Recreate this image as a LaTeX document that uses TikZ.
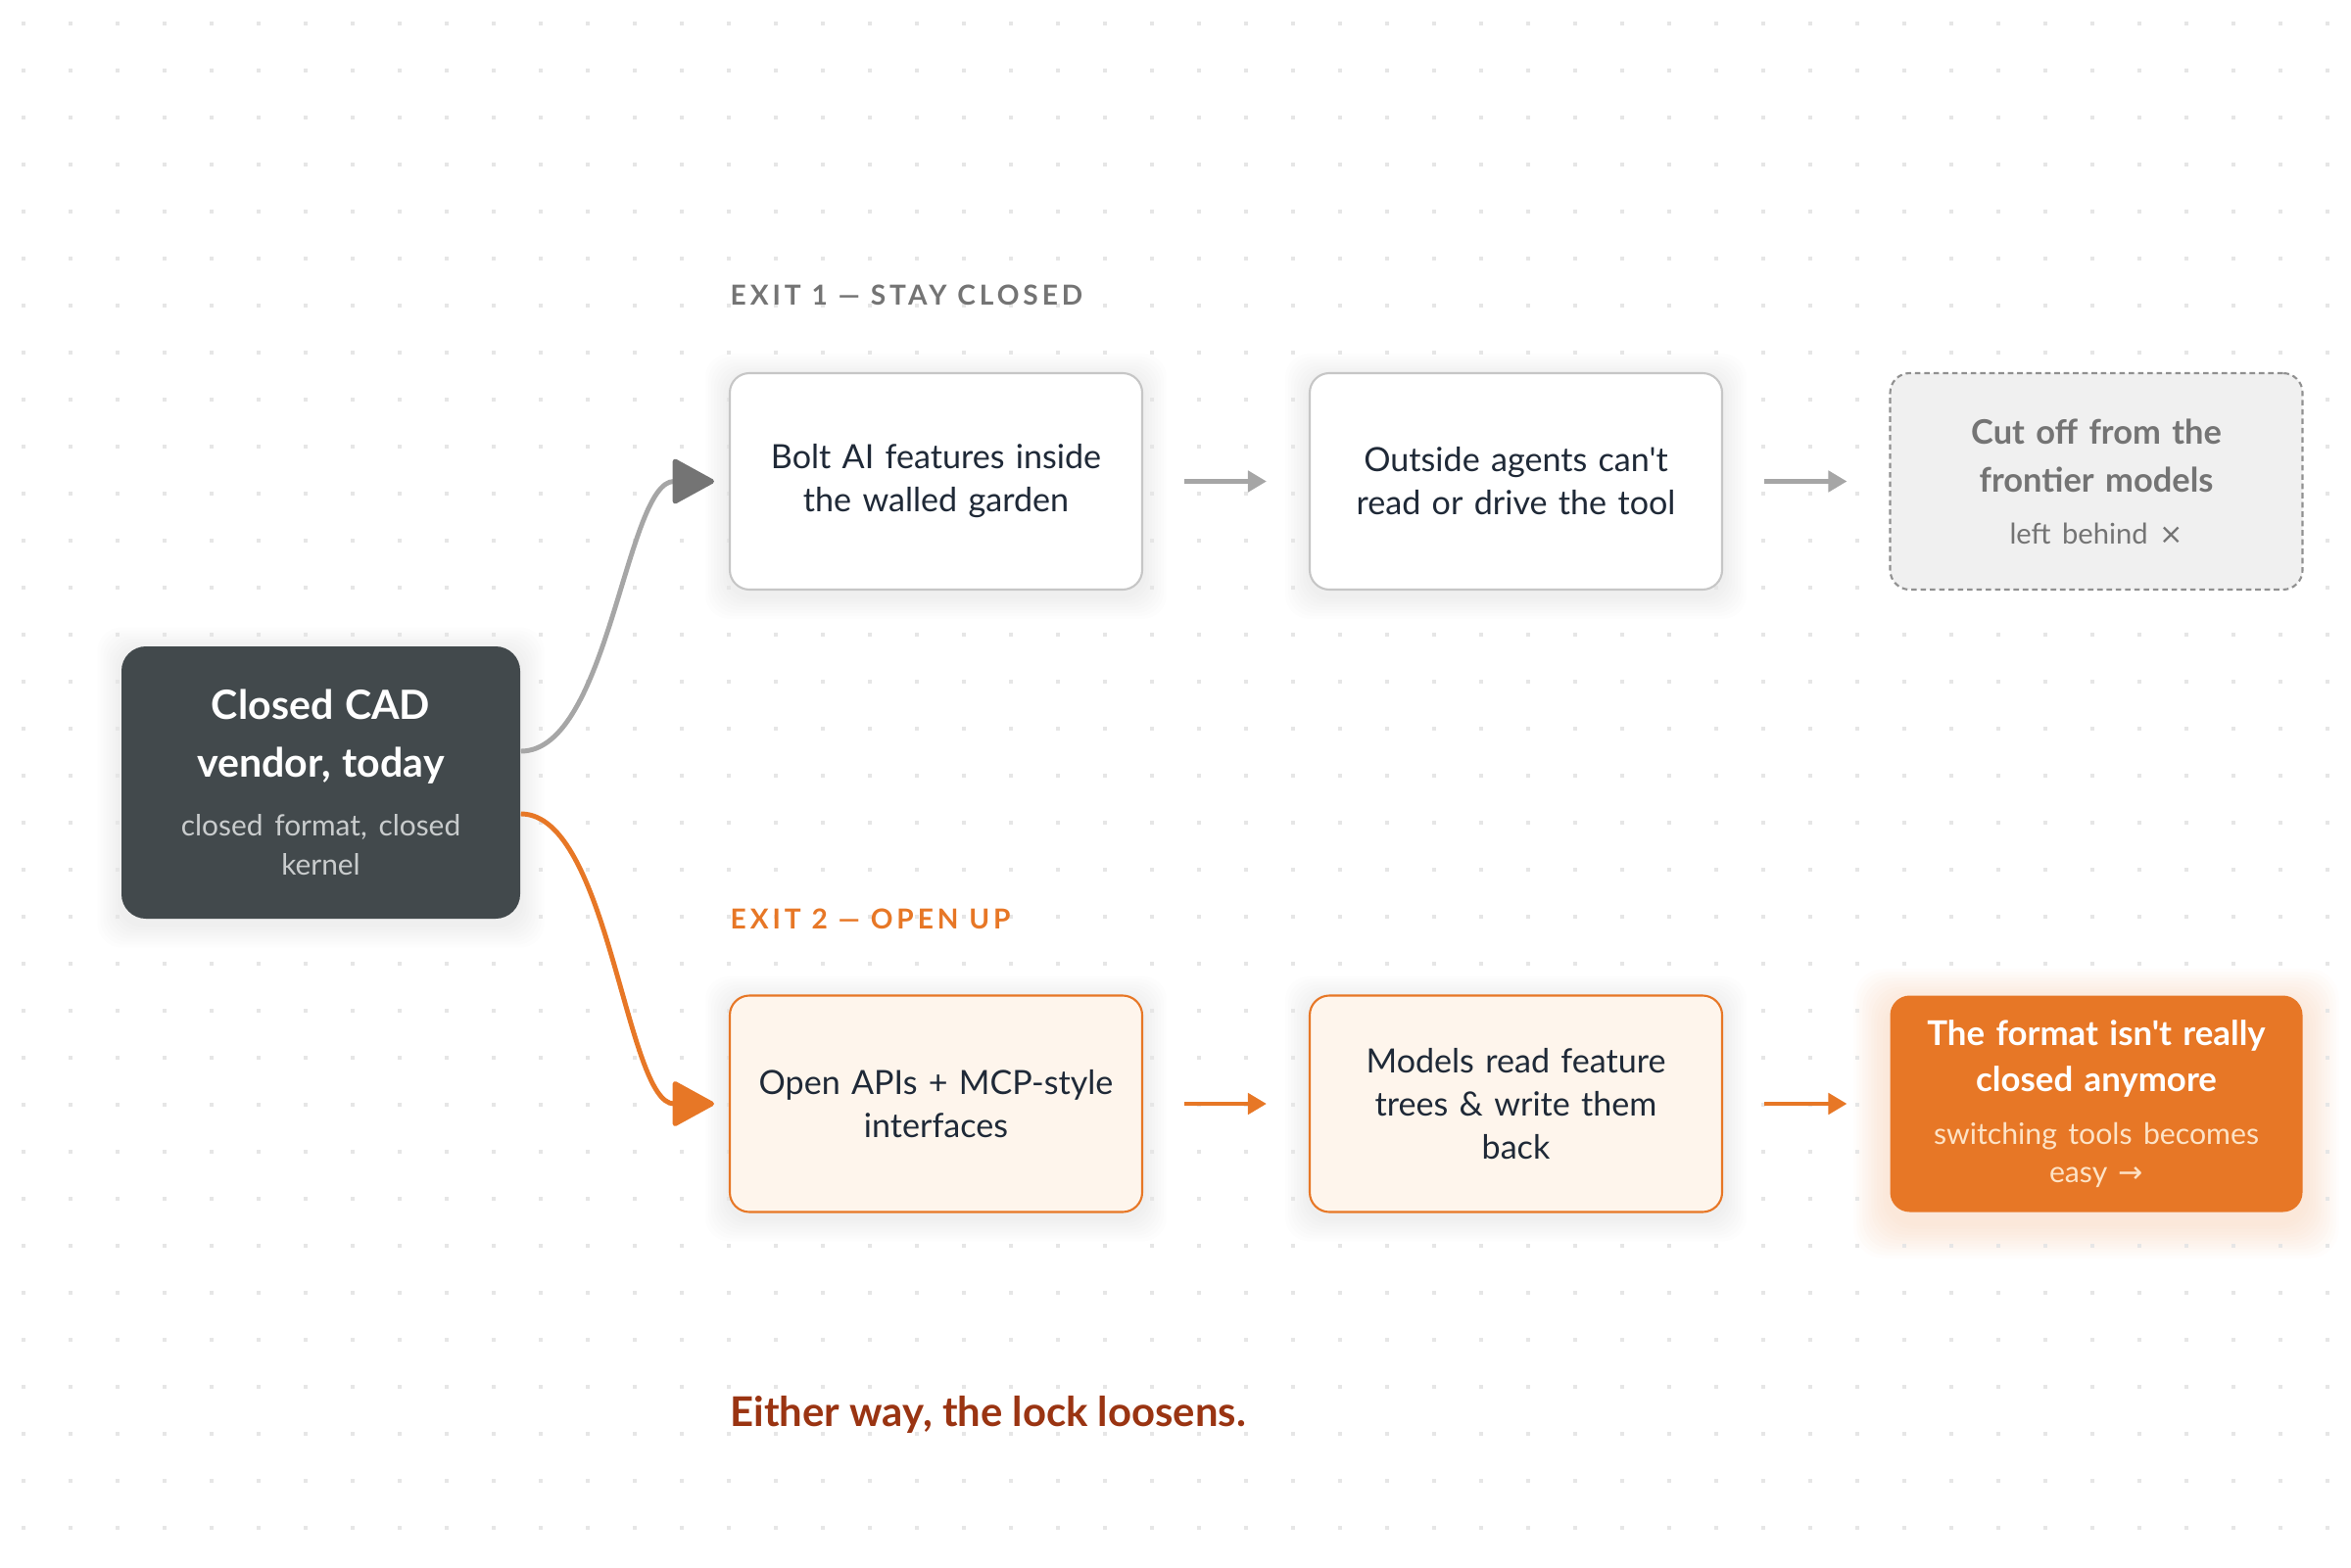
\documentclass[tikz,border=0pt]{standalone}
\usepackage{fontspec}
\setmainfont{Lato}[Ligatures=TeXOff]
\newfontfamily\symfont{DejaVu Sans}
\newfontfamily\exitfont[LetterSpace=14]{Lato}
\usetikzlibrary{arrows.meta,calc,backgrounds}

\definecolor{slate}{HTML}{42494C}
\definecolor{ink}{HTML}{1F2937}
\definecolor{rim}{HTML}{C6C6C6}
\definecolor{mist}{HTML}{F0F0F0}
\definecolor{ash}{HTML}{747474}
\definecolor{wire}{HTML}{A6A6A6}
\definecolor{fog}{HTML}{C9CCCD}
\definecolor{carrot}{HTML}{E77726}
\definecolor{cream}{HTML}{FEF5EC}
\definecolor{peach}{HTML}{FDE3C6}
\definecolor{rust}{HTML}{9A3412}
\definecolor{dotc}{HTML}{E6E6E6}

\begin{document}
\begin{tikzpicture}[
		box/.style={draw=rim, line width=0.6pt, fill=white, rounded corners=0.2cm, minimum width=4.21cm, minimum height=2.21cm, text width=3.8cm, align=center, text=ink, font=\fontsize{9.7}{12.5}\selectfont},
		hot/.style={box, draw=carrot, fill=cream},
		flow/.style={line width=1.4pt, wire, -{Triangle[length=0.19cm, width=0.21cm]}, shorten <=0.42cm, shorten >=0.43cm},
		swerve/.style={line width=1.4pt, -{Triangle[length=0.45cm, width=0.48cm, round]}},
		exit/.style={anchor=base west, inner sep=0pt, font=\exitfont\bfseries\fontsize{8}{10}\selectfont}]
	\useasboundingbox (0,0) rectangle (24,-16);
	\foreach \i in {0,...,49}
		\foreach \j in {0,...,32}
			\fill[dotc] (0.22+0.48*\i,-0.22-0.48*\j) rectangle ++(0.04,-0.04);
	
	\node[fill=slate, rounded corners=0.25cm, minimum width=4.07cm, minimum height=2.78cm, text width=3.6cm, align=center] (closed) at (3.275,-7.99)
		{{\fontsize{11.7}{16.8}\selectfont\bfseries\color{white} Closed CAD\\ vendor, today\par}\vspace{0.2cm}
		{\fontsize{8.5}{11.4}\selectfont\color{fog} closed format, closed\\ kernel\par}};
	
	\node[exit, text=ash] (exitone) at (7.45,-3.12) {EXIT 1 — STAY CLOSED};
	\node[box] (bolt) at (9.555,-4.915) {Bolt AI features inside\\ the walled garden};
	\node[box] (outside) at (15.475,-4.915) {Outside agents can't\\ read or drive the tool};
	\node[box, fill=mist, draw=ash!80, dash pattern=on 1.6pt off 1.1pt] (cutoff) at (21.4,-4.915)
		{{\fontsize{9.8}{13.9}\selectfont\bfseries\color{ash} Cut off from the\\ frontier models\par}\vspace{0.13cm}
		{\fontsize{8.3}{11.4}\selectfont\color{ash} left behind {\symfont ×}\par}};
	
	\node[exit, text=carrot] (exittwo) at (7.45,-9.48) {EXIT 2 — OPEN UP};
	\node[hot] (apis) at (9.555,-11.27) {Open APIs + MCP-style\\ interfaces};
	\node[hot] (models) at (15.475,-11.27) {Models read feature\\ trees \& write them\\ back};
	\node[box, draw=none, fill=carrot] (format) at (21.4,-11.27)
		{{\fontsize{9.9}{13.4}\selectfont\bfseries\color{white} The format isn't really\\ closed anymore\par}\vspace{0.15cm}
		{\fontsize{8.6}{11.1}\selectfont\color{peach} switching tools becomes\\ easy {\symfont →}\par}};
	
	\draw[flow] (bolt) -- (outside);
	\draw[flow] (outside) -- (cutoff);
	\draw[flow, carrot] (apis) -- (models);
	\draw[flow, carrot] (models) -- (format);
	
	\draw[swerve, wire, -{Triangle[length=0.45cm, width=0.48cm, round, color=ash]}] ([yshift=0.32cm]closed.east) .. controls +(0.9,0) and +(-0.9,0) .. ([xshift=-0.15cm]bolt.west);
	\draw[swerve, carrot] ([yshift=-0.32cm]closed.east) .. controls +(0.9,0) and +(-0.9,0) .. ([xshift=-0.15cm]apis.west);
	
	\node[anchor=base west, inner sep=0pt, text=rust, font=\bfseries\fontsize{11.9}{14}\selectfont] (moral) at (7.45,-14.56) {Either way, the lock loosens.};
	
	\begin{scope}[on background layer]
		\foreach \n in {closed,bolt,outside,apis,models}
			\foreach \k in {1,...,8}
				\fill[black, opacity=0.007, rounded corners=0.25cm] ($(\n.south west)+(-0.03*\k,-0.03*\k-0.05)$) rectangle ($(\n.north east)+(0.03*\k,0.03*\k-0.05)$);
		\foreach \k in {1,...,12}
			\fill[carrot, opacity=0.014, rounded corners=0.3cm] ($(format.south west)+(-0.03*\k,-0.03*\k-0.1)$) rectangle ($(format.north east)+(0.03*\k,0.03*\k-0.1)$);
	\end{scope}
\end{tikzpicture}
\end{document}
